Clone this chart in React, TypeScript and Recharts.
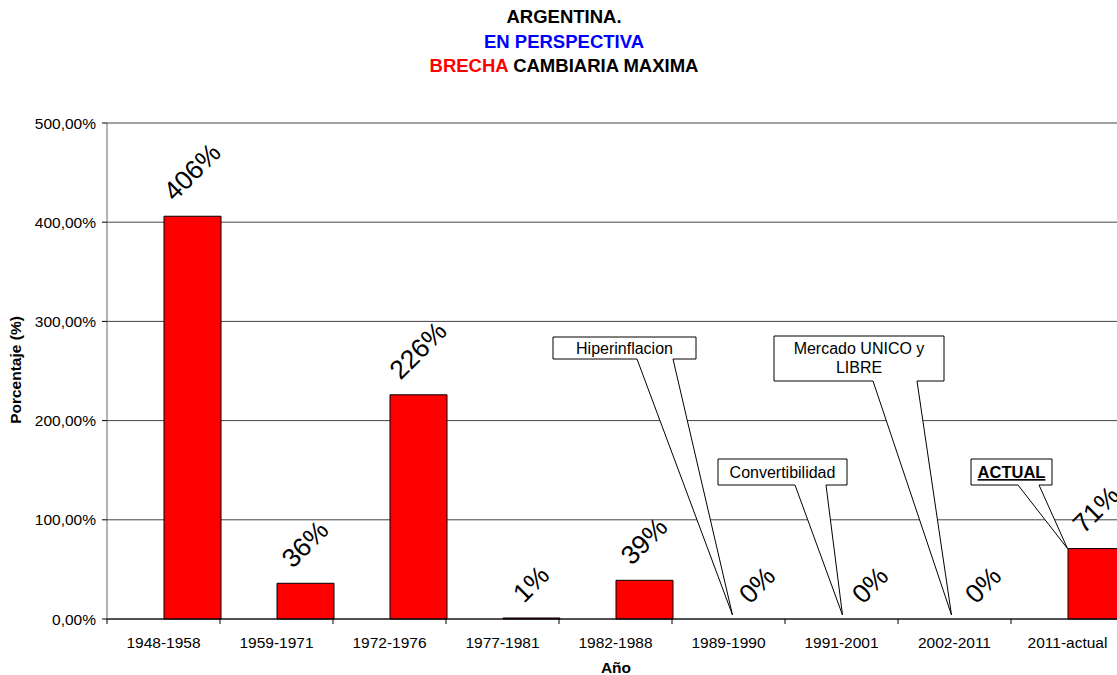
import React from 'react';
import { ComposedChart, Bar, Line, XAxis, YAxis, CartesianGrid, LabelList } from 'recharts';

const PERIODS = ['1948-1958', '1959-1971', '1972-1976', '1977-1981', '1982-1988', '1989-1990', '1991-2001', '2002-2011', '2011-actual'];
const BRECHA = [406, 36, 226, 1, 39, 0, 0, 0, 71];
const Y_TICKS = [0, 100, 200, 300, 400, 500];

// callout boxes, keyed by period index; box in page px, tip offset from the bar's top-left corner
const CALLOUTS = [
  { index: 5, lines: ['Hiperinflacion'], box: [553, 337, 143, 22], base: [637, 673], tip: [4, -4] },
  { index: 6, lines: ['Convertibilidad'], box: [718, 459, 129, 26], base: [795, 826], tip: [1, -4] },
  { index: 7, lines: ['Mercado UNICO y', 'LIBRE'], box: [774, 336, 170, 45], base: [873, 917], tip: [-3, -4] },
  { index: 8, lines: ['ACTUAL'], box: [971, 459, 81, 26], base: [1018, 1039], tip: [0, 0], strong: true },
];

const FONT = 'Arial, "Liberation Sans", sans-serif';

const CHART_W = 1130;
const MARGIN = { top: 123, right: 6, bottom: 0, left: 0 };
const Y_AXIS_W = 107;
const BAND = (CHART_W - MARGIN.right - MARGIN.left - Y_AXIS_W) / PERIODS.length;

// empty "pad" column pushes each red bar into the right half of its slot
const data = PERIODS.map((name, i) => ({ name, pad: null, value: BRECHA[i] }));

const LABEL_SIZE = 26.5;

const textWidth = (s: string) =>
  s.split('').reduce((w, c) => w + (c === '%' ? 0.889 : 0.556), 0) * LABEL_SIZE;

const Callout = ({ c, x, y }: { c: (typeof CALLOUTS)[number]; x: number; y: number }) => {
  const [bx, by, bw, bh] = c.box;
  const tx = x + c.tip[0];
  const ty = y + c.tip[1];
  const bottom = by + bh;
  const d = `M${bx},${by} L${bx + bw},${by} L${bx + bw},${bottom} L${c.base[1]},${bottom} L${tx},${ty} L${c.base[0]},${bottom} L${bx},${bottom} Z`;
  const cx = bx + bw / 2;
  return (
    <g>
      <path d={d} fill="#fff" stroke="#000" strokeWidth={1} />
      {c.lines.map((line, i) => (
        <text
          key={line}
          x={cx}
          y={by + (c.lines.length > 1 ? 18 + i * 19 : bh / 2 + 6)}
          textAnchor="middle"
          fontFamily={FONT}
          fontSize={c.strong ? 16.5 : 16}
          fontWeight={c.strong ? 'bold' : 'normal'}
          textDecoration={c.strong ? 'underline' : undefined}
          fill="#000"
        >
          {line}
        </text>
      ))}
    </g>
  );
};

// x is the slot centre = left edge of the red bar, y is the bar top
const BarLabel = (props: any) => {
  const { x, y, value, index } = props;
  const txt = `${value}%`;
  const h = 0.716 * LABEL_SIZE;
  const side = 0.707 * (textWidth(txt) + h);
  const cx = x + BAND / 4;
  const cy = y - 14 - side / 2;
  const callout = CALLOUTS.find((c) => c.index === index);
  return (
    <g>
      {callout && <Callout c={callout} x={x} y={y} />}
      <text
        x={cx}
        y={cy + h / 2}
        textAnchor="middle"
        fontFamily={FONT}
        fontSize={LABEL_SIZE}
        fill="#000"
        transform={`rotate(-45, ${cx}, ${cy})`}
      >
        {txt}
      </text>
    </g>
  );
};

const PeriodTick = (props: any) => {
  const { x, y, payload } = props;
  const half = BAND / 2;
  return (
    <g>
      <line x1={x - half} y1={y} x2={x - half} y2={y + 5} stroke="#000" />
      <text x={x} y={y + 28.5} textAnchor="middle" fontFamily={FONT} fontSize={15.5} fill="#000">
        {payload.value}
      </text>
    </g>
  );
};

export default function App() {
  return (
    <div style={{ position: 'absolute', left: 0, top: 0, width: 1117, height: 675, overflow: 'hidden', background: '#fff', fontFamily: FONT }}>
      <div style={{ position: 'absolute', left: 264, width: 600, top: 5, textAlign: 'center', fontWeight: 'bold', fontSize: 18.5, lineHeight: '24.5px' }}>
        <div>ARGENTINA.</div>
        <div style={{ color: '#0000ff' }}>EN PERSPECTIVA</div>
        <div>
          <span style={{ color: '#ff0000' }}>BRECHA</span> CAMBIARIA MAXIMA
        </div>
      </div>
      <ComposedChart
        width={CHART_W}
        height={675}
        data={data}
        margin={MARGIN}
        barCategoryGap={0}
        barGap={0}
      >
        <CartesianGrid vertical={false} stroke="#444" />
        <XAxis
          dataKey="name"
          height={56}
          axisLine={{ stroke: '#000' }}
          tickLine={false}
          tickSize={0}
          tickMargin={0}
          interval={0}
          tick={<PeriodTick />}
        />
        <YAxis
          width={Y_AXIS_W}
          domain={[0, 500]}
          ticks={Y_TICKS}
          tickFormatter={(v: number) => `${v},00%`}
          axisLine={{ stroke: '#666' }}
          tickLine={{ stroke: '#000' }}
          tickSize={5}
          tickMargin={6}
          tick={{ fill: '#000', fontSize: 15.5, fontFamily: FONT }}
        />
        <Bar dataKey="pad" fill="#fff" isAnimationActive={false} />
        <Bar dataKey="value" fill="#ff0000" stroke="#000" strokeWidth={1} isAnimationActive={false} />
        {/* invisible series carrying the rotated value labels and callouts */}
        <Line
          dataKey="value"
          stroke="none"
          dot={false}
          activeDot={false}
          legendType="none"
          isAnimationActive={false}
        >
          <LabelList dataKey="value" content={<BarLabel />} />
        </Line>
      </ComposedChart>
      <div style={{ position: 'absolute', left: 16, top: 370, transform: 'translate(-50%, -50%) rotate(-90deg)', fontWeight: 'bold', fontSize: 15.5, whiteSpace: 'nowrap' }}>
        Porcentaje (%)
      </div>
      <div style={{ position: 'absolute', left: 616, top: 668, transform: 'translate(-50%, -50%)', fontWeight: 'bold', fontSize: 15.5 }}>
        Año
      </div>
    </div>
  );
}
